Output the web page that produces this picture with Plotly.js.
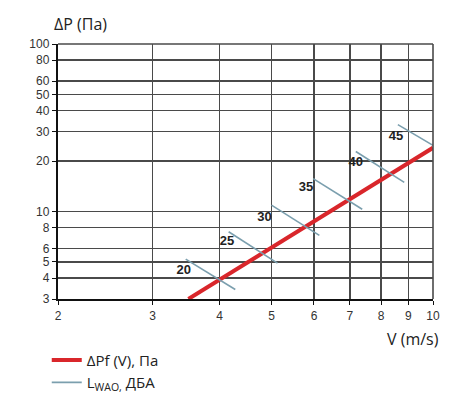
<!DOCTYPE html>
<html>
<head>
<meta charset="utf-8">
<script src="https://cdn.plot.ly/plotly-3.0.1.min.js"></script>
<style>html,body{margin:0;padding:0;background:#fff;}#chart{width:469px;height:411px;}</style>
</head>
<body>
<div id="chart"></div>
<script>
// Red pressure line ΔPf(V)
const lineV = [3.5, 10];
const lineP = [3, 24];

// Noise level segments L_WAO (dBA)
const levels = [20, 25, 30, 35, 40, 45];
const segX1 = [3.46, 4.16, 5.0, 5.98, 7.18, 8.6];
const segY1 = [5.19, 7.56, 10.9, 15.7, 22.8, 33.0];
const segX2 = [4.28, 5.13, 6.14, 7.38, 8.84, 10];
const segY2 = [3.42, 4.91, 7.19, 10.3, 14.9, 24.8];
const labelX = [3.43, 4.13, 4.85, 5.80, 7.18, 8.53];
const labelY = [4.45, 6.6, 9.2, 13.8, 19.6, 27.8];

// Axis ticks
const xTicks = [2, 3, 4, 5, 6, 7, 8, 9, 10];
const yTicks = [3, 4, 5, 6, 8, 10, 20, 30, 40, 50, 60, 80, 100];

const sx = [], sy = [];
for (let i = 0; i < levels.length; i++) {
  sx.push(segX1[i], segX2[i], null);
  sy.push(segY1[i], segY2[i], null);
}

const traces = [
  {
    x: lineV, y: lineP, mode: 'lines', name: 'ΔPf (V), Па',
    line: {color: '#d9262b', width: 4}, cliponaxis: false
  },
  {
    x: sx, y: sy, mode: 'lines', name: 'L<sub>WAO,</sub> ДБА',
    line: {color: '#7b9fae', width: 1.6}, connectgaps: false
  },
  {
    x: labelX, y: labelY, mode: 'text', showlegend: false,
    text: levels.map(String), texttemplate: '<b>%{text}</b>',
    textfont: {family: 'Liberation Sans, Arial, sans-serif', size: 13, color: '#222'},
    hoverinfo: 'skip'
  }
];

const layout = {
  width: 469, height: 411,
  margin: {l: 58, r: 36, t: 44, b: 109},
  paper_bgcolor: '#fff', plot_bgcolor: '#fff',
  font: {family: 'Liberation Sans, Arial, sans-serif', color: '#333'},
  xaxis: {
    type: 'log', range: [Math.log10(2), 1],
    tickvals: xTicks, ticktext: xTicks.map(String),
    showgrid: true, gridcolor: '#4a4a4a', gridwidth: 1.6,
    showline: true, linecolor: '#111', linewidth: 2.2,
    ticks: 'outside', ticklen: 4, tickcolor: '#111',
    tickfont: {size: 12, color: '#333'}, zeroline: false, fixedrange: true
  },
  yaxis: {
    type: 'log', range: [Math.log10(3), 2],
    tickvals: yTicks, ticktext: yTicks.map(String),
    showgrid: true, gridcolor: '#4a4a4a', gridwidth: 1.6,
    showline: true, linecolor: '#111', linewidth: 2.2,
    ticks: 'outside', ticklen: 4, tickcolor: '#111',
    tickfont: {size: 12, color: '#333'}, zeroline: false, fixedrange: true
  },
  showlegend: true,
  legend: {
    x: -0.03, y: -0.175, xanchor: 'left', yanchor: 'top',
    font: {family: 'Open Sans, sans-serif', size: 15, color: '#222'},
    itemwidth: 30, tracegroupgap: 0, bgcolor: 'rgba(0,0,0,0)'
  },
  annotations: [
    {xref: 'paper', yref: 'paper', x: -0.016, y: 1.08, xanchor: 'left', yanchor: 'middle',
     text: 'ΔP (Па)', showarrow: false, font: {family: 'Open Sans, sans-serif', size: 16, color: '#222'}},
    {xref: 'paper', yref: 'paper', x: 1.02, y: -0.155, xanchor: 'right', yanchor: 'middle',
     text: 'V (m/s)', showarrow: false, font: {family: 'Open Sans, sans-serif', size: 16, color: '#222'}}
  ],
  shapes: [
    {type: 'line', xref: 'paper', yref: 'paper', x0: 0, x1: 1, y0: 1, y1: 1, line: {color: '#4a4a4a', width: 1.6}},
    {type: 'line', xref: 'paper', yref: 'paper', x0: 1, x1: 1, y0: 0, y1: 1, line: {color: '#4a4a4a', width: 1.6}}
  ]
};

Plotly.newPlot('chart', traces, layout, {displayModeBar: false, staticPlot: true});
</script>
</body>
</html>
